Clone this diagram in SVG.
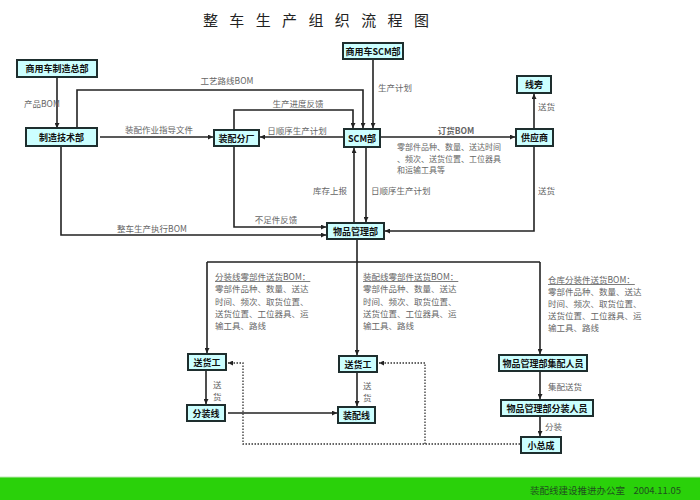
<svg xmlns="http://www.w3.org/2000/svg" width="700" height="500" viewBox="0 0 700 500">
<defs>
<marker id="ah" viewBox="0 0 10 10" refX="10" refY="5" markerWidth="5" markerHeight="5" markerUnits="userSpaceOnUse" orient="auto">
<path d="M0,0 L10,5 L0,10 z" fill="#222"/>
</marker>
<style>
.box{fill:#ccffff;stroke:#1e2e2e;stroke-width:2}
.nt{font-family:"Noto Sans CJK SC","Liberation Sans",sans-serif;font-size:9px;font-weight:bold;fill:#111;text-anchor:middle;dominant-baseline:central}
.ln{fill:none;stroke:#222;stroke-width:1.6}
.ar{marker-end:url(#ah)}
.dt{fill:none;stroke:#333;stroke-width:1.3;stroke-dasharray:1.5 1.5}
.lb{font-family:"Noto Sans CJK SC","Liberation Serif",serif;font-size:8.5px;fill:#666}
.sm{font-size:8px}
.mid{text-anchor:middle}
.end{text-anchor:end}
</style>
</defs>
<rect width="700" height="500" fill="#fff"/>
<text x="203" y="26" font-family="'Noto Sans CJK SC',sans-serif" font-size="15" fill="#222" letter-spacing="4">整 车 生 产 组 织 流 程 图</text>

<g id="connectors">
<path class="ln ar" d="M57,77 V128"/>
<path class="ln ar" d="M77,128 V90 H363 V128"/>
<path class="ln ar" d="M234,130 V110 H353 V128"/>
<path class="ln ar" d="M100,137 H213"/>
<path class="ln ar" d="M344,137 H260"/>
<path class="ln ar" d="M373,59 V128"/>
<path class="ln ar" d="M380,137 H515"/>
<path class="ln ar" d="M534,129 V94"/>
<path class="ln ar" d="M534,146 V231 H385"/>
<path class="ln ar" d="M354,223 V148"/>
<path class="ln ar" d="M366,147 V222"/>
<path class="ln ar" d="M234,146 V227 H326"/>
<path class="ln ar" d="M61,146 V235 H326"/>
<path class="ln" d="M357,239 V262 M207,262 H540"/>
<path class="ln ar" d="M207,262 V353"/>
<path class="ln ar" d="M357,262 V355"/>
<path class="ln ar" d="M540,262 V354"/>
<path class="ln ar" d="M206,370 V404"/>
<path class="ln ar" d="M228,413 H337"/>
<path class="ln ar" d="M357,372 V406"/>
<path class="ln ar" d="M540,371 V399"/>
<path class="ln ar" d="M540,416 V436"/>
<path class="dt ar" d="M520,444 H243 V363 H228"/>
<path class="dt ar" d="M425,444 V363 H379"/>
<text class="lb" x="24" y="107">产品BOM</text>
<text class="lb mid" x="227" y="84">工艺路线BOM</text>
<text class="lb mid" x="298" y="107">生产进度反馈</text>
<text class="lb mid" x="159" y="133">装配作业指导文件</text>
<text class="lb mid" x="297" y="134">日顺序生产计划</text>
<text class="lb" x="378" y="91">生产计划</text>
<text class="lb mid" x="456" y="134" font-weight="bold" fill="#222">订货BOM</text>
<text class="lb sm" x="397" y="150">零部件品种、数量、送达时间</text>
<text class="lb sm" x="397" y="161.5">、频次、送货位置、工位器具</text>
<text class="lb sm" x="397" y="173">和运输工具等</text>
<text class="lb" x="538" y="110">送货</text>
<text class="lb" x="538" y="194">送货</text>
<text class="lb end" x="347" y="194">库存上报</text>
<text class="lb" x="371" y="194">日顺序生产计划</text>
<text class="lb mid" x="276" y="223">不足件反馈</text>
<text class="lb mid" x="152" y="232">整车生产执行BOM</text>
<text class="lb" x="215" y="280" text-decoration="underline">分装线零部件送货BOM：</text>
<text class="lb" x="215" y="292">零部件品种、数量、送达</text>
<text class="lb" x="215" y="304.5">时间、频次、取货位置、</text>
<text class="lb" x="215" y="317">送货位置、工位器具、运</text>
<text class="lb" x="215" y="329">输工具、路线</text>
<text class="lb" x="363" y="280" text-decoration="underline">装配线零部件送货BOM：</text>
<text class="lb" x="363" y="292">零部件品种、数量、送达</text>
<text class="lb" x="363" y="304.5">时间、频次、取货位置、</text>
<text class="lb" x="363" y="317">送货位置、工位器具、运</text>
<text class="lb" x="363" y="329">输工具、路线</text>
<text class="lb" x="548" y="283" text-decoration="underline">仓库分装件送货BOM：</text>
<text class="lb" x="548" y="295">零部件品种、数量、送达</text>
<text class="lb" x="548" y="307">时间、频次、取货位置、</text>
<text class="lb" x="548" y="319">送货位置、工位器具、运</text>
<text class="lb" x="548" y="331">输工具、路线</text>
<text class="lb" x="213" y="388">送</text>
<text class="lb" x="213" y="400">货</text>
<text class="lb" x="363" y="389">送</text>
<text class="lb" x="363" y="401">货</text>
<text class="lb" x="548" y="390">集配送货</text>
<text class="lb" x="545" y="430">分装</text>
</g>

<g id="n1"><rect class="box" x="17" y="60" width="80" height="17"/><text class="nt" x="57" y="68.5">商用车制造总部</text></g>
<g id="n2"><rect class="box" x="26" y="128" width="71" height="18"/><text class="nt" x="61.5" y="137">制造技术部</text></g>
<g id="n3"><rect class="box" x="214" y="130" width="45" height="16"/><text class="nt" x="236.5" y="138">装配分厂</text></g>
<g id="n4"><rect class="box" x="343" y="43" width="60" height="16"/><text class="nt" x="373" y="51">商用车SCM部</text></g>
<g id="n5"><rect class="box" x="344" y="129" width="36" height="18"/><text class="nt" x="362" y="138" font-weight="normal">SCM部</text></g>
<g id="n6"><rect class="box" x="517" y="76" width="34" height="17"/><text class="nt" x="534" y="84.5">线旁</text></g>
<g id="n7"><rect class="box" x="516" y="129" width="37" height="17"/><text class="nt" x="534.5" y="137.5">供应商</text></g>
<g id="n8"><rect class="box" x="327" y="223" width="57" height="16"/><text class="nt" x="355.5" y="231">物品管理部</text></g>
<g id="n9"><rect class="box" x="188" y="354" width="38" height="16"/><text class="nt" x="207" y="362">送货工</text></g>
<g id="n10"><rect class="box" x="187" y="405" width="38" height="16"/><text class="nt" x="206" y="413">分装线</text></g>
<g id="n11"><rect class="box" x="339" y="356" width="38" height="16"/><text class="nt" x="358" y="364">送货工</text></g>
<g id="n12"><rect class="box" x="338" y="407" width="37" height="16"/><text class="nt" x="356.5" y="415">装配线</text></g>
<g id="n13"><rect class="box" x="499" y="355" width="88" height="16"/><text class="nt" x="543" y="363">物品管理部集配人员</text></g>
<g id="n14"><rect class="box" x="501" y="400" width="92" height="16"/><text class="nt" x="547" y="408">物品管理部分装人员</text></g>
<g id="n15"><rect class="box" x="521" y="437" width="40" height="16"/><text class="nt" x="541" y="445">小总成</text></g>

<rect x="0" y="477" width="700" height="23" fill="#2ad10a"/>
<line x1="0" y1="477" x2="700" y2="477" stroke="#bfe8b5" stroke-width="1"/>
<text x="530" y="494" font-family="'Noto Sans CJK SC','Liberation Serif',serif" font-size="9.5" fill="#1f4f1f" xml:space="preserve">装配线建设推进办公室    2004.11.05</text>
</svg>
